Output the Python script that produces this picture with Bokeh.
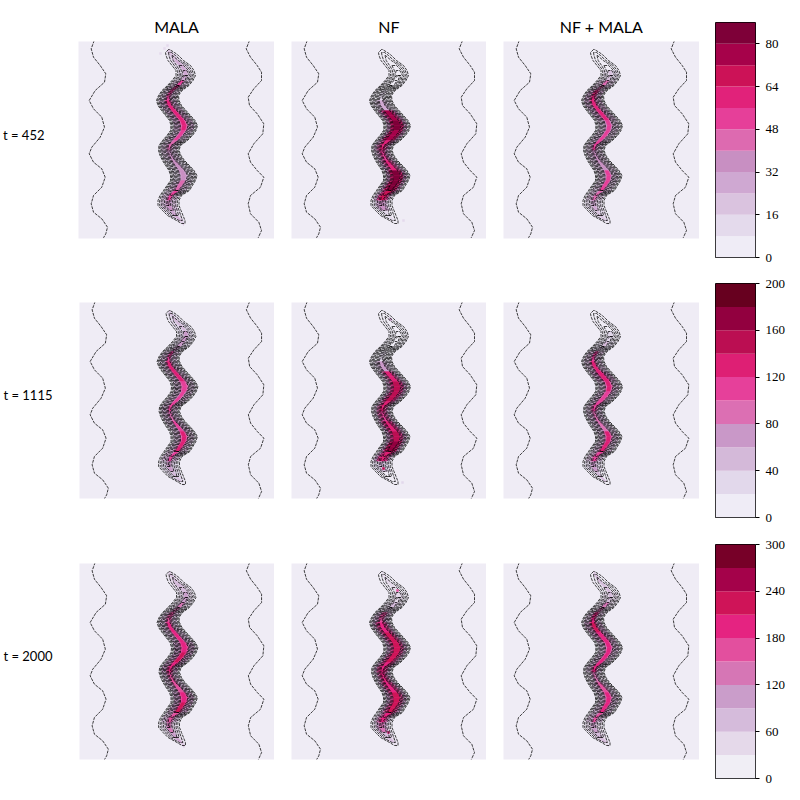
from bokeh.plotting import figure
from bokeh.layouts import column, row
from bokeh.models import Range1d, FixedTicker, LinearAxis, Title
from bokeh.embed import file_html
from bokeh.resources import INLINE

methods = ["MALA", "NF", "NF + MALA"]
times = [452, 1115, 2000]

# Colour scales
levels_1 = [0, 8, 16, 24, 32, 40, 48, 56, 64, 72, 80, 88]
levels_2 = [0, 20, 40, 60, 80, 100, 120, 140, 160, 180, 200]
levels_3 = [0, 30, 60, 90, 120, 150, 180, 210, 240, 270, 300]
colors_1 = ["#efecf6", "#e4daec", "#dac3df", "#cfa8d2", "#c88fc2", "#dd6ab0", "#e63f99", "#e1227a", "#cc1257", "#a6024a", "#7e0038"]
colors_2 = ["#efecf6", "#e2d8eb", "#d4b9d9", "#c998c8", "#dc6fb3", "#e6409a", "#de1f74", "#bb0e52", "#92003f", "#67001f"]
colors_3 = ["#f0eef5", "#e5d9ea", "#d5bbdb", "#ca9dca", "#d676b5", "#e34f9e", "#e52381", "#cf1458", "#a4024a", "#770028"]
ticks_1 = [0, 16, 32, 48, 64, 80]
ticks_2 = [0, 40, 80, 120, 160, 200]
ticks_3 = [0, 60, 120, 180, 240, 300]

# Outer contour of the target density: rows, left and right edges (panel pixels)
row_y = [8, 11, 14, 19, 24, 29, 34, 39, 44, 49, 54, 59, 64, 69, 74, 79, 84, 89, 94, 99, 104, 109, 114, 119, 124, 129, 134, 139, 144, 149, 154, 159, 164, 169, 174, 179, 182, 184]
left_x = [90, 87, 87.5, 89.5, 93.5, 97.5, 97.5, 93.5, 89, 83.5, 80, 78, 79.5, 83, 87, 91, 92.5, 92, 88.5, 84, 80.5, 80, 81.5, 84, 87, 90.5, 92, 92, 88.5, 85, 81.5, 79.5, 79.5, 84, 89, 98, 103, 105]
right_x = [91, 96, 100, 105, 112, 115.5, 117, 114.5, 110.5, 103.5, 100, 100.5, 103, 107.5, 112, 116.5, 119, 117.5, 114, 109, 102, 100.5, 102.5, 106, 111, 115.5, 118.5, 117, 114, 111, 103, 100.5, 100.5, 102.5, 104.5, 106.5, 106.5, 105]
level_gap = [3, 3, 3, 2.6, 2.3, 1.8, 1.5, 1.3, 1.15, 1.05, 1.05, 1.05, 1.05, 1.05, 1.05, 1.05, 1.05, 1.05, 1.05, 1.05, 1.05, 1.05, 1.05, 1.05, 1.05, 1.05, 1.05, 1.05, 1.1, 1.25, 1.4, 1.6, 1.7, 1.9, 2.2, 2.6, 3, 3]
contour_count = 10

# Faint side contours of the target
side_l_x = [15.7, 12.7, 15, 21.7, 27.3, 26, 16.7, 10.7, 15, 23.3, 26, 21.7, 13.3, 10.7, 15, 23.3, 26.7, 23.3, 15, 12.7, 15, 23.3, 29, 27.3, 25]
side_l_y = [-1, 7.3, 15.7, 24, 32.3, 40.7, 49, 59, 67.3, 75.7, 85.7, 95.7, 105.7, 112.3, 120.7, 127.3, 135.7, 145.7, 154, 162.3, 170.7, 177.3, 185.7, 192.3, 196.3]
side_r_x = [171, 167.7, 172, 178.7, 183, 183, 175.3, 169.7, 171, 178.7, 185.3, 184.3, 175.3, 169.7, 172, 178.7, 185.3, 182, 172, 169.7, 172, 180.3, 183, 179.7]
side_r_y = [-1, 7.3, 15.7, 24, 30.7, 39, 47.3, 55.7, 64, 72.3, 82.3, 92.3, 102.3, 112.3, 120.7, 129, 135.7, 145.7, 154, 162.3, 172.3, 180.7, 189, 196.3]

# Sample density along the ridge, one value per 10 px from the top
mala_452 = [22, 26, 30, 50, 50, 60, 58, 56, 52, 46, 36, 34, 35, 44, 52, 38, 24, 18]
nf_452 = [0, 0, 0, 0, 8, 30, 72, 82, 76, 56, 52, 62, 80, 84, 66, 32, 10, 0]
both_452 = [0, 0, 20, 40, 60, 60, 56, 52, 52, 50, 36, 36, 50, 50, 42, 28, 20, 10]
mala_1115 = [45, 50, 60, 70, 105, 120, 120, 110, 100, 100, 90, 100, 120, 120, 100, 70, 50, 25]
nf_1115 = [0, 0, 0, 10, 25, 60, 130, 150, 150, 125, 115, 135, 155, 165, 135, 50, 15, 5]
both_1115 = [0, 0, 30, 45, 100, 125, 135, 120, 115, 115, 90, 90, 125, 125, 110, 65, 40, 15]
mala_2000 = [70, 80, 90, 120, 160, 190, 190, 205, 220, 200, 160, 175, 205, 215, 175, 130, 110, 75]
nf_2000 = [30, 35, 40, 70, 150, 205, 215, 225, 215, 205, 190, 200, 215, 225, 190, 120, 70, 30]
both_2000 = [60, 65, 75, 125, 190, 215, 205, 195, 180, 190, 130, 160, 195, 180, 150, 110, 80, 55]

# Stray samples outside the ridge: x, y, count
stray_mala_452 = ([82, 89, 90, 86], [12, 4, 10, 7], [14, 12, 16, 10])
stray_nf_452 = ([112], [179], [14])
stray_nf_1115 = ([99, 111, 92], [17, 180, 166], [70, 30, 150])
stray_nf_2000 = ([106, 97], [27, 169], [170, 190])

rows_cfg = [
    (levels_1, colors_1, ticks_1, [mala_452, nf_452, both_452], [stray_mala_452, stray_nf_452, None]),
    (levels_2, colors_2, ticks_2, [mala_1115, nf_1115, both_1115], [None, stray_nf_1115, None]),
    (levels_3, colors_3, ticks_3, [mala_2000, nf_2000, both_2000], [None, stray_nf_2000, None]),
]
# top border of the panel and of the colour bar, bottom border, figure height
row_box = [(41, 22, 25, 6, 263), (39, 20, 25, 6, 260), (40, 21, 25, 6, 261)]
frame_h = [197, 196, 196]
col_left = [78, 17, 17]
col_w = [196, 195, 196]
band_spread = [1.0, 1.6, 1.0]
label_standoff = [34, 27, 27]
BACK = "#efecf5"


def color_for(v, levels, colors):
    for i in range(len(colors)):
        if v < levels[i + 1]:
            return colors[i]
    return colors[-1]


def add_heat(p, vals, levels, colors, spread):
    cx = [(a + b) / 2 for a, b in zip(left_x, right_x)]
    hw = [(b - a) / 2 for a, b in zip(left_x, right_x)]
    for scale, width in [(0.45, 0.75), (0.75, 0.3 * spread), (1.0, 0.15 * spread)]:
        xs, ys, cs = [], [], []
        for i in range(len(row_y) - 1):
            mid = (row_y[i] + row_y[i + 1]) / 2
            idx = min(17, max(0, int((mid - 9) / 10)))
            c = color_for(vals[idx] * scale, levels, colors)
            if c == colors[0]:
                continue
            a, b = hw[i] * width, hw[i + 1] * width
            xs.append([cx[i] - a, cx[i + 1] - b, cx[i + 1] + b, cx[i] + a])
            ys.append([row_y[i], row_y[i + 1], row_y[i + 1], row_y[i]])
            cs.append(c)
        p.patches(xs, ys, fill_color=cs, line_color=cs, line_width=0.3)


def add_contours(p):
    cx = [(a + b) / 2 for a, b in zip(left_x, right_x)]
    hw = [(b - a) / 2 for a, b in zip(left_x, right_x)]
    for k in range(contour_count):
        idx = [i for i in range(len(row_y)) if hw[i] - k * level_gap[i] > 0.2]
        if len(idx) < 2:
            continue
        lx = [cx[i] - (hw[i] - k * level_gap[i]) for i in idx]
        rx = [cx[i] + (hw[i] - k * level_gap[i]) for i in idx]
        ly = [row_y[i] for i in idx]
        p.line(lx + rx[::-1] + [lx[0]], ly + ly[::-1] + [ly[0]], line_color="#000000",
               line_width=0.75, line_dash="3 1")
    p.line(side_l_x, side_l_y, line_color="#000000", line_width=0.75, line_dash="3 1")
    p.line(side_r_x, side_r_y, line_color="#000000", line_width=0.75, line_dash="3 1")


rows = []
for r, (levels, colors, ticks, panel_vals, strays) in enumerate(rows_cfg):
    ptop, ctop, pbot, cbot, h = row_box[r]
    figs = []
    for c in range(3):
        p = figure(width=col_left[c] + col_w[c], height=h, output_backend="svg", toolbar_location=None,
                   x_range=Range1d(0, col_w[c]), y_range=Range1d(frame_h[r], 0),
                   min_border_left=col_left[c], min_border_right=0, min_border_top=ptop, min_border_bottom=pbot,
                   background_fill_color=BACK, outline_line_color=None, frame_align=False)
        p.xaxis.visible = False
        p.yaxis.visible = False
        p.grid.visible = False
        add_heat(p, panel_vals[c], levels, colors, band_spread[c])
        if strays[c]:
            sx, sy, sv = strays[c]
            p.rect(sx, sy, width=2.5, height=2.5, fill_color=[color_for(v, levels, colors) for v in sv], line_color=None)
        add_contours(p)
        if r == 0:
            p.add_layout(Title(text=methods[c], align="center", text_font="Lato", text_font_size="16px",
                               text_font_style="normal", text_color="#000000", standoff=11), "above")
        if c == 0:
            tick_y = frame_h[r] / 2 - 5.5
            row_axis = LinearAxis(ticker=FixedTicker(ticks=[tick_y]),
                                  major_label_overrides={tick_y: f"t = {times[r]}"},
                                  axis_line_color=None, major_tick_line_color=None, minor_tick_line_color=None,
                                  major_tick_in=0, major_tick_out=0, major_label_standoff=label_standoff[r],
                                  major_label_orientation="horizontal", major_label_text_font="Lato",
                                  major_label_text_font_size="13px", major_label_text_color="#000000")
            p.add_layout(row_axis, "left")
        figs.append(p)
    cb = figure(width=93, height=h, output_backend="svg", toolbar_location=None, x_range=Range1d(0, 1),
                y_range=Range1d(levels[0], levels[-1]), y_axis_location="right",
                min_border_left=16, min_border_right=37, min_border_top=ctop, min_border_bottom=cbot,
                outline_line_color="#000000", outline_line_width=1, frame_align=False)
    cb.xaxis.visible = False
    cb.grid.visible = False
    cb.quad(left=0, right=1, bottom=levels[:-1], top=levels[1:], fill_color=colors, line_color=None)
    cb.yaxis.ticker = FixedTicker(ticks=ticks)
    cb.yaxis.minor_tick_line_color = None
    cb.yaxis.axis_line_color = None
    cb.yaxis.major_tick_in = 0
    cb.yaxis.major_tick_out = 4
    cb.yaxis.major_label_standoff = 6
    cb.yaxis.major_label_text_font = "Liberation Serif"
    cb.yaxis.major_label_text_font_size = "13px"
    cb.yaxis.major_label_text_color = "#000000"
    figs.append(cb)
    rows.append(row(*figs, spacing=0))

layout = column(*rows, spacing=0)
open("out.html", "w").write(file_html(layout, INLINE))
